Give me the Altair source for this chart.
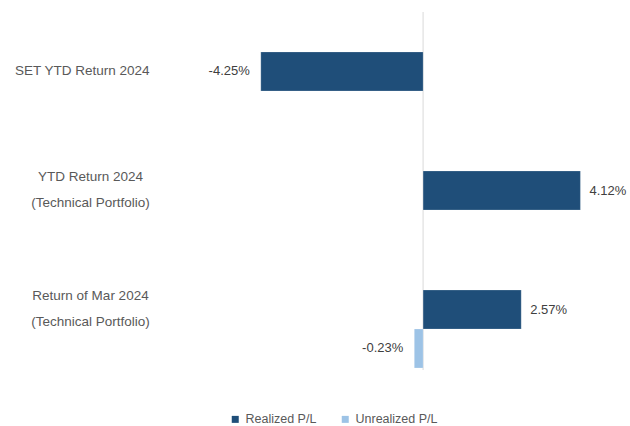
import altair as alt
import pandas as pd

categories = [
    "SET YTD Return 2024",
    "YTD Return 2024|(Technical Portfolio)",
    "Return of Mar 2024|(Technical Portfolio)",
]
realized = [-4.25, 4.12, 2.57]
unrealized = [None, None, -0.23]
series = ["Realized P/L", "Unrealized P/L"]
colors = ["#1F4E79", "#9DC3E6"]

rows = []
for c, r, u in zip(categories, realized, unrealized):
    if r is not None:
        rows.append({"cat": c, "series": series[0], "v": r})
    if u is not None:
        rows.append({"cat": c, "series": series[1], "v": u})
df = pd.DataFrame(rows)

FONT = "Liberation Sans"
MULTI = "indexof(datum.label, '|') >= 0"

y_enc = alt.Y(
    "cat:N",
    sort=categories,
    scale=alt.Scale(paddingInner=0.345, paddingOuter=0.1765, align=0.952),
    axis=alt.Axis(
        title=None, ticks=False, domain=False, grid=False,
        labelPadding={"condition": {"test": MULTI, "value": 104}, "value": 45},
        labelAlign={"condition": {"test": MULTI, "value": "center"}, "value": "right"},
        labelOffset={"condition": {"test": MULTI, "value": -33}, "value": -20},
        labelExpr="split(datum.label, '|')",
        labelLineHeight=26, labelFontSize=13.5, labelColor="#595959",
        labelFont=FONT, labelLimit=0,
    ),
)
yoff = alt.YOffset("series:N", sort=series, scale=alt.Scale(paddingInner=0, paddingOuter=0))
x_enc = alt.X("v:Q", scale=alt.Scale(domain=[-6, 5], nice=False, zero=False), axis=None)

base = alt.Chart(df).transform_calculate(
    lab="(datum.v < 0 ? '-' : '') + format(abs(datum.v), '.2f') + '%'"
)

rule = alt.Chart(pd.DataFrame({"z": [0]})).mark_rule(color="#D9D9D9", strokeWidth=1).encode(
    x=alt.X("z:Q", scale=alt.Scale(domain=[-6, 5], nice=False, zero=False), axis=None)
)

bars = base.mark_bar(stroke="#FFFFFF", strokeWidth=0.5, strokeOpacity=0.4).encode(
    x=x_enc,
    y=y_enc,
    yOffset=yoff,
    color=alt.Color(
        "series:N",
        scale=alt.Scale(domain=series, range=colors),
        legend=alt.Legend(
            orient="none", legendX=35, legendY=401, direction="horizontal",
            title=None, symbolType="square", symbolSize=49, symbolStrokeWidth=0,
            labelFontSize=12.5, labelColor="#595959", labelFont=FONT,
            columnPadding=22, labelOffset=4, padding=0,
        ),
    ),
)

txt_neg = base.transform_filter("datum.v < 0").mark_text(
    align="right", dx=-11, fontSize=13, font=FONT, color="#404040"
).encode(x=x_enc, y=y_enc, yOffset=yoff, text="lab:N")
txt_pos = base.transform_filter("datum.v >= 0").mark_text(
    align="left", dx=9, fontSize=13, font=FONT, color="#404040"
).encode(x=x_enc, y=y_enc, yOffset=yoff, text="lab:N")

chart = alt.layer(rule, bars, txt_neg, txt_pos).properties(
    width=420,
    height=358,
    autosize=alt.AutoSizeParams(type="none"),
    padding={"left": 194, "top": 12, "right": 16, "bottom": 56},
    background="white",
).configure_view(stroke=None)

chart.save("out.html", embed_options={"renderer": "svg", "actions": False})
